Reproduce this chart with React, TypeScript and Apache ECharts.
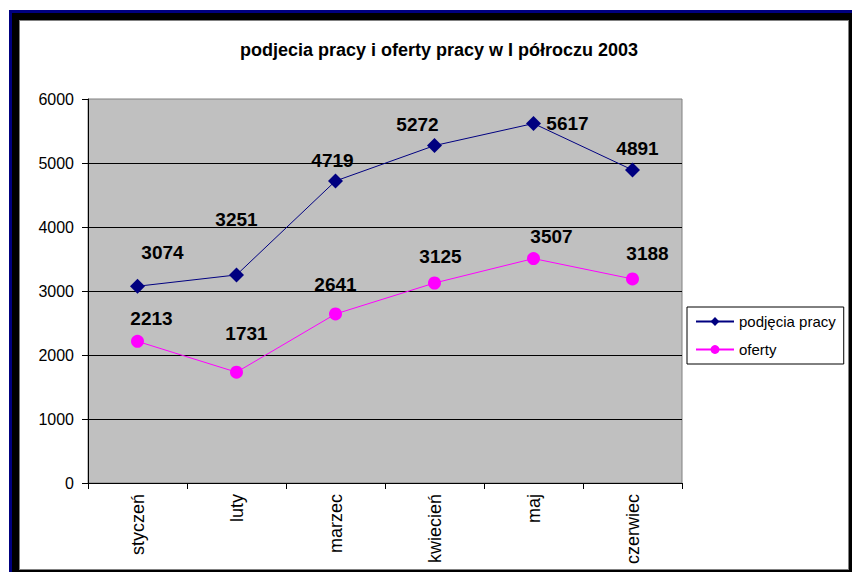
import React, { useEffect, useRef } from "react";
import * as echarts from "echarts";

const categories = ["styczeń", "luty", "marzec", "kwiecień", "maj", "czerwiec"];
const podjeciaPracy = [3074, 3251, 4719, 5272, 5617, 4891];
const oferty = [2213, 1731, 2641, 3125, 3507, 3188];
const seriesNames = ["podjęcia pracy", "oferty"];
const titleText = "podjecia pracy i oferty pracy w I półroczu 2003";

// label placement (pixel offsets from each point), styling only
const podjeciaLabelOffsets = [[25, -34], [0, -55], [-3, -20], [-17, -21], [34, 0], [5, -21]];
const ofertyLabelOffsets = [[14, -23], [10, -39], [0, -29], [6, -27], [18, -22], [15, -25]];

const FONT = "'Liberation Sans', Arial, sans-serif";

export default function App() {
  const ref = useRef<HTMLDivElement>(null);
  useEffect(() => {
    if (!ref.current) return;
    const chart = echarts.init(ref.current, null, { renderer: "svg" });
    const mk = (vals: number[], offs: number[][]) =>
      vals.map((v, i) => ({ value: v, label: { offset: offs[i] } }));
    const labelStyle = {
      show: true,
      position: "inside",
      fontFamily: FONT,
      fontWeight: "bold",
      fontSize: 19,
      color: "#000",
    };
    chart.setOption({
      animation: false,
      backgroundColor: "#ffffff",
      graphic: [
        { type: "rect", z: -10, shape: { x: 9, y: 10, width: 843, height: 562 }, style: { fill: "#000080" } },
        { type: "rect", z: -9, shape: { x: 12, y: 13, width: 840, height: 559 }, style: { fill: "#000000" } },
        { type: "rect", z: -8, shape: { x: 19, y: 20, width: 830, height: 550 }, style: { fill: "#808080" } },
        { type: "rect", z: -7, shape: { x: 20, y: 21, width: 828, height: 548 }, style: { fill: "#ffffff" } },
      ],
      title: {
        text: titleText,
        left: 434,
        top: 36,
        textAlign: "center",
        textStyle: { fontFamily: FONT, fontWeight: "bold", fontSize: 18, color: "#000" },
      },
      legend: {
        left: 687,
        top: 307,
        orient: "vertical",
        padding: [7, 8, 7, 8],
        itemWidth: 38,
        itemHeight: 11,
        itemGap: 13,
        borderColor: "#000",
        borderWidth: 1,
        backgroundColor: "#fff",
        textStyle: { fontFamily: FONT, fontSize: 15, color: "#000" },
        data: seriesNames,
      },
      grid: {
        left: 88,
        right: 170,
        top: 99,
        bottom: 89,
        show: true,
        backgroundColor: "#C0C0C0",
        borderColor: "#808080",
        borderWidth: 1,
      },
      xAxis: {
        type: "category",
        data: categories,
        boundaryGap: true,
        axisLine: { lineStyle: { color: "#000", width: 1 } },
        axisTick: { show: true, length: 6, lineStyle: { color: "#000" } },
        axisLabel: { rotate: 90, margin: 11, fontFamily: FONT, fontSize: 18, color: "#000" },
      },
      yAxis: {
        type: "value",
        min: 0,
        max: 6000,
        interval: 1000,
        axisLine: { show: true, lineStyle: { color: "#000", width: 1 } },
        axisTick: { show: true, length: 6, lineStyle: { color: "#000" } },
        axisLabel: {
          margin: 14,
          fontFamily: FONT,
          fontSize: 16,
          color: "#000",
          formatter: (v: number) => String(v),
        },
        splitLine: { show: true, showMaxLine: false, lineStyle: { color: "#000", width: 1 } },
      },
      series: [
        {
          name: seriesNames[0],
          type: "line",
          data: mk(podjeciaPracy, podjeciaLabelOffsets),
          symbol: "diamond",
          symbolSize: 15,
          lineStyle: { color: "#000080", width: 1 },
          itemStyle: { color: "#000080" },
          label: labelStyle,
        },
        {
          name: seriesNames[1],
          type: "line",
          data: mk(oferty, ofertyLabelOffsets),
          symbol: "circle",
          symbolSize: 13,
          lineStyle: { color: "#FF00FF", width: 1 },
          itemStyle: { color: "#FF00FF" },
          label: labelStyle,
        },
      ],
    });
    return () => chart.dispose();
  }, []);
  return (
    <div
      ref={ref}
      style={{ position: "absolute", left: 0, top: 0, width: 852, height: 572 }}
    />
  );
}
